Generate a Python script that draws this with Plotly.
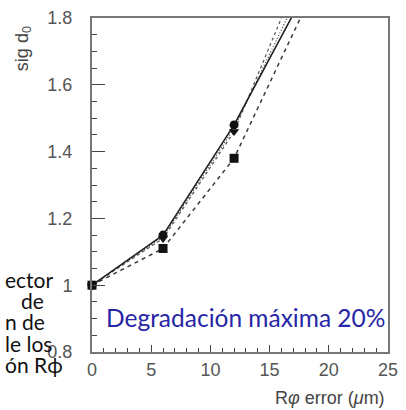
import plotly.graph_objects as go

# data
x_err = [0, 6, 12, 20]
sig_circle = [1.00, 1.15, 1.48, 2.01]
sig_tri = [1.00, 1.14, 1.46, 2.14]
sig_dashdot = [1.00, 1.145, 1.47, 2.06]
sig_square = [1.00, 1.11, 1.38, 1.98]
n_marked = 3

left_lines = ["ector", "de", "n de", "le los", "ón Rϕ"]
left_px = [0, 17, 0, 0, 0]
left_py = [279, 300, 321, 343, 365]

W, H = 406, 410
L, R, T, B = 92, 8, 16, 58
PW, PH = W - L - R, H - T - B

fig = go.Figure()
line_col = "#3a3a3a"
series = [
    (sig_dashdot, dict(color=line_col, width=1.2, dash="1px,2px"), None),
    (sig_tri, dict(color="#555555", width=1.2, dash="dot"), "triangle-down"),
    (sig_square, dict(color=line_col, width=1.5, dash="4px,4px"), "square"),
    (sig_circle, dict(color="#222222", width=1.6, dash="solid"), "circle"),
]
for ys, ln, sym in series:
    fig.add_trace(go.Scatter(x=x_err, y=ys, mode="lines", line=ln,
                             showlegend=False, hoverinfo="skip"))
for ys, ln, sym in series:
    if sym:
        fig.add_trace(go.Scatter(x=x_err[:n_marked], y=ys[:n_marked], mode="markers",
                                 marker=dict(symbol=sym, size=9, color="#111111"),
                                 cliponaxis=False, showlegend=False))

axis_common = dict(showline=True, linecolor="#777777", linewidth=2, mirror=True,
                   showgrid=False, zeroline=False, ticks="inside", tickcolor="#444444",
                   ticklabeloverflow="allow",
                   tickfont=dict(family="Liberation Sans", size=18, color="#555555"))
fig.update_xaxes(range=[0, 25], dtick=5, tick0=0, ticklen=7, tickwidth=1.2,
                 minor=dict(dtick=1, ticks="inside", ticklen=4, tickcolor="#444444"),
                 **axis_common)
fig.update_yaxes(range=[0.8, 1.8], dtick=0.2, tick0=0.8, ticklen=13, tickwidth=1.2,
                 ticklabelstandoff=14,
                 minor=dict(dtick=0.05, ticks="inside", ticklen=5, tickcolor="#444444"),
                 **axis_common)

ann = []
ann.append(dict(text="R<i>φ</i> error (<i>μ</i>m)", xref="paper", yref="paper",
                x=(397 - L) / PW, y=(H - B - 398) / PH, xanchor="right", yanchor="middle",
                showarrow=False, font=dict(family="Liberation Sans", size=18, color="#444444")))
ann.append(dict(text="sig d<sub>0</sub>", xref="paper", yref="paper", textangle=-90,
                x=(21 - L) / PW, y=(H - B - 47) / PH, xanchor="center", yanchor="middle",
                showarrow=False, font=dict(family="Liberation Sans", size=18, color="#444444")))
ann.append(dict(text="Degradación máxima 20%", xref="paper", yref="paper",
                x=(251 - L) / PW, y=(H - B - 317) / PH, xanchor="center", yanchor="middle",
                showarrow=False, font=dict(family="Lato", size=24.5, color="#2626a6")))
for t, px, py in zip(left_lines, left_px, left_py):
    ann.append(dict(text=t, xref="paper", yref="paper",
                    x=(px - L) / PW, y=(H - B - py) / PH, xanchor="left", yanchor="middle",
                    showarrow=False, font=dict(family="Lato", size=21, color="#111111")))

fig.update_layout(width=W, height=H, margin=dict(l=L, r=R, t=T, b=B, pad=0),
                  paper_bgcolor="white", plot_bgcolor="white", annotations=ann)
fig.write_html("out.html")
